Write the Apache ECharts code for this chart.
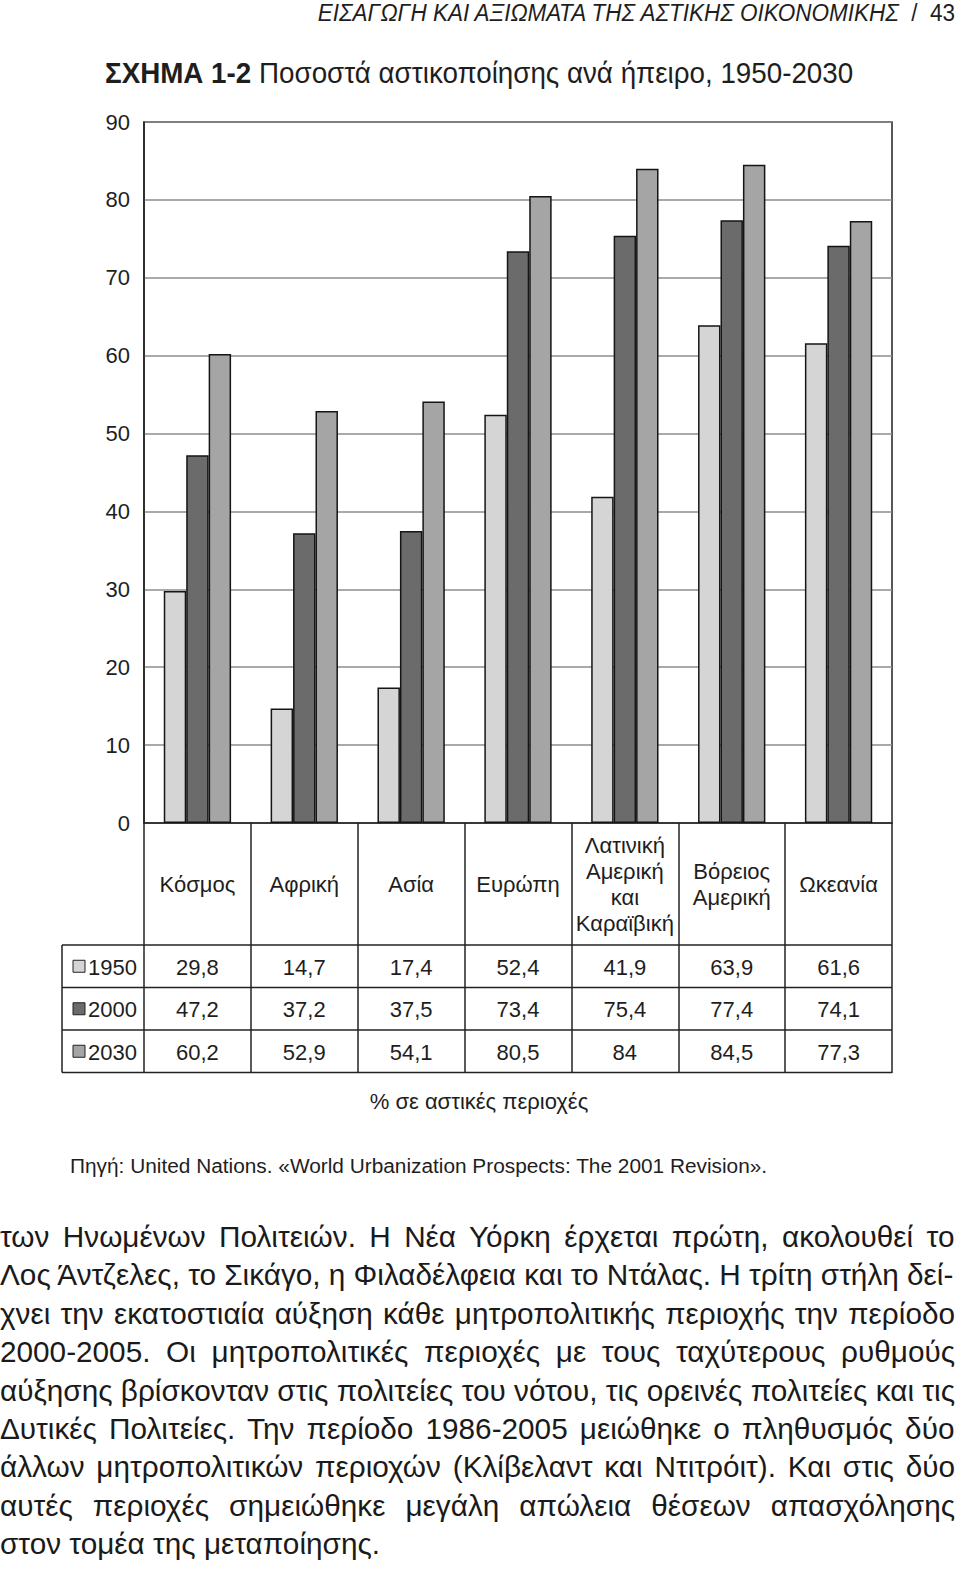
<!DOCTYPE html>
<html><head><meta charset="utf-8">
<script src="https://cdn.jsdelivr.net/npm/echarts@6/dist/echarts.min.js"></script>
<style>
html,body{margin:0;padding:0;background:#fff;}
#page{position:relative;width:960px;height:1584px;overflow:hidden;background:#fff;}
#chart{position:absolute;left:0;top:0;width:960px;height:1200px;}
#body{position:absolute;left:0;top:1218px;font-family:"Liberation Sans",Arial,sans-serif;line-height:38.4px;color:#1a1a1a;transform-origin:0 0;}
#body div{white-space:nowrap;text-align:left;}
</style></head>
<body><div id="page"><div id="chart"></div>
<div id="body">
<div>των Ηνωμένων Πολιτειών. Η Νέα Υόρκη έρχεται πρώτη, ακολουθεί το</div>
<div>Λος Άντζελες, το Σικάγο, η Φιλαδέλφεια και το Ντάλας. Η τρίτη στήλη δεί-</div>
<div>χνει την εκατοστιαία αύξηση κάθε μητροπολιτικής περιοχής την περίοδο</div>
<div>2000-2005. Οι μητροπολιτικές περιοχές με τους ταχύτερους ρυθμούς</div>
<div>αύξησης βρίσκονταν στις πολιτείες του νότου, τις ορεινές πολιτείες και τις</div>
<div>Δυτικές Πολιτείες. Την περίοδο 1986-2005 μειώθηκε ο πληθυσμός δύο</div>
<div>άλλων μητροπολιτικών περιοχών (Κλίβελαντ και Ντιτρόιτ). Και στις δύο</div>
<div>αυτές περιοχές σημειώθηκε μεγάλη απώλεια θέσεων απασχόλησης</div>
<div class="last">στον τομέα της μεταποίησης.</div>
</div></div>
<script>
const categories = ['Κόσμος','Αφρική','Ασία','Ευρώπη','Λατινική\nΑμερική\nκαι\nΚαραϊβική','Βόρειος\nΑμερική','Ωκεανία'];
const years = ['1950','2000','2030'];
const v1950 = [29.8,14.7,17.4,52.4,41.9,63.9,61.6];
const v2000 = [47.2,37.2,37.5,73.4,75.4,77.4,74.1];
const v2030 = [60.2,52.9,54.1,80.5,84,84.5,77.3];
const yMin = 0, yMax = 90, yStep = 10;
const headerText = 'ΕΙΣΑΓΩΓΗ ΚΑΙ ΑΞΙΩΜΑΤΑ ΤΗΣ ΑΣΤΙΚΗΣ ΟΙΚΟΝΟΜΙΚΗΣ';
const pageNo = '43';
const titleBold = 'ΣΧΗΜΑ 1-2';
const titleRest = ' Ποσοστά αστικοποίησης ανά ήπειρο, 1950-2030';
const unitText = '% σε αστικές περιοχές';
const sourceText = 'Πηγή: United Nations. «World Urbanization Prospects: The 2001 Revision».';

const seriesValues = [v1950, v2000, v2030];
const colors = ['#d5d5d5', '#6b6b6b', '#a5a5a5'];
const FAM = '"Liberation Sans", Arial, sans-serif';
const INK = '#1e1e1e';

// text measuring helper (narrow-face look: regular face squeezed horizontally to the layout widths)
const ctx = document.createElement('canvas').getContext('2d');
function tw(text, weight, style, size) { ctx.font = style + ' ' + weight + ' ' + size + 'px ' + FAM; return ctx.measureText(text).width; }

const titleSize = 29;
const titleScale = 749 / (tw(titleBold, 'bold', 'normal', titleSize) + tw(titleRest, 'normal', 'normal', titleSize));
const headSep = '  /  ';
const headSize = 23.5;
const headScale = 640 / (tw(headerText, 'normal', 'italic', headSize) + tw(headSep + pageNo, 'normal', 'normal', headSize));
const srcSize = 21;
const srcScale = 698 / tw(sourceText, 'normal', 'normal', srcSize);

// body text: justified lines
const bodyEl = document.getElementById('body');
const bodyDivs = Array.from(document.querySelectorAll('#body div'));
const lastText = bodyDivs[bodyDivs.length - 1].textContent;
const bodySize = 30;
const bodyScale = 380 / tw(lastText, 'normal', 'normal', bodySize);
const innerW = 955 / bodyScale;
bodyEl.style.fontSize = bodySize + 'px';
bodyEl.style.width = innerW + 'px';
bodyEl.style.transform = 'scaleX(' + bodyScale + ')';
bodyDivs.forEach((d, i) => {
  if (i === bodyDivs.length - 1) return;
  const t = d.textContent;
  const spaces = (t.match(/ /g) || []).length;
  const w = tw(t, 'normal', 'normal', bodySize);
  d.style.wordSpacing = ((innerW - w) / spaces) + 'px';
});

const chart = echarts.init(document.getElementById('chart'), null, {renderer: 'svg'});
const fmt = v => String(v).replace('.', ',');

chart.setOption({
  animation: false,
  backgroundColor: '#fff',
  grid: {left: 144, right: 68, top: 122, height: 701, show: true, borderColor: '#222', borderWidth: 1.5, backgroundColor: 'transparent', outerBoundsMode: 'none'},
  xAxis: {
    type: 'category', data: categories, boundaryGap: true,
    axisLine: {show: true, lineStyle: {color: '#222', width: 1.5}},
    axisTick: {show: true, interval: 0, length: 250, alignWithLabel: false, lineStyle: {color: '#222', width: 1.5}},
    axisLabel: {interval: 0, margin: 61, verticalAlign: 'middle', lineHeight: 26, fontSize: 22, fontFamily: FAM, color: INK}
  },
  yAxis: {
    type: 'value', min: yMin, max: yMax, interval: yStep,
    axisLine: {show: true, lineStyle: {color: '#222', width: 1.5}},
    axisTick: {show: false},
    axisLabel: {margin: 14, fontSize: 22, fontFamily: FAM, color: INK},
    splitLine: {show: true, lineStyle: {color: '#8c8c8c', width: 1.5}}
  },
  series: years.map((y, i) => ({
    name: y, type: 'bar', data: seriesValues[i],
    barGap: '0%', barCategoryGap: '37%',
    itemStyle: {color: colors[i], borderColor: '#151515', borderWidth: 1.5}
  }))
});

// Data table under the chart (built from the same arrays)
const xs = categories.map((c, i) => chart.convertToPixel({xAxisIndex: 0}, i));
const rowLines = [945, 987.5, 1030, 1072.5];
const tableLeft = 62, tableRight = 892;
const g = [];
rowLines.forEach(y => g.push({type: 'line', shape: {x1: tableLeft, y1: y, x2: tableRight, y2: y}, style: {stroke: '#222', lineWidth: 1.5}}));
g.push({type: 'line', shape: {x1: tableLeft, y1: rowLines[0], x2: tableLeft, y2: rowLines[3]}, style: {stroke: '#222', lineWidth: 1.5}});
years.forEach((yr, r) => {
  const cy = (rowLines[r] + rowLines[r + 1]) / 2;
  g.push({type: 'rect', shape: {x: 73, y: cy - 6, width: 12, height: 12}, style: {fill: colors[r], stroke: '#222', lineWidth: 1}});
  g.push({type: 'text', style: {text: yr, x: 88, y: cy + 1, align: 'left', verticalAlign: 'middle', font: '22px ' + FAM, fill: INK}});
  seriesValues[r].forEach((v, c) => {
    g.push({type: 'text', style: {text: fmt(v), x: xs[c], y: cy + 1, align: 'center', verticalAlign: 'middle', font: '22px ' + FAM, fill: INK}});
  });
});
g.push({type: 'text', style: {text: unitText, x: 479, y: 1101, align: 'center', verticalAlign: 'middle', font: '22px ' + FAM, fill: INK}});
g.push({type: 'text', x: 70, y: 1165, scaleX: srcScale, style: {text: sourceText, x: 0, y: 0, align: 'left', verticalAlign: 'middle', font: srcSize + 'px ' + FAM, fill: INK}});
g.push({type: 'text', x: 105, y: 73, scaleX: titleScale, style: {
  text: '{b|' + titleBold + '}{n|' + titleRest + '}', x: 0, y: 0, align: 'left', verticalAlign: 'middle',
  rich: {
    b: {fontFamily: FAM, fontWeight: 'bold', fontSize: titleSize, fill: INK},
    n: {fontFamily: FAM, fontSize: titleSize, fill: INK}
  }
}});
g.push({type: 'text', x: 955, y: 13, scaleX: headScale, style: {
  text: '{i|' + headerText + '}{n|' + headSep + pageNo + '}', x: 0, y: 0, align: 'right', verticalAlign: 'middle',
  rich: {
    i: {fontFamily: FAM, fontStyle: 'italic', fontSize: headSize, fill: INK},
    n: {fontFamily: FAM, fontSize: headSize, fill: INK}
  }
}});
chart.setOption({graphic: g});
</script>
</body></html>
